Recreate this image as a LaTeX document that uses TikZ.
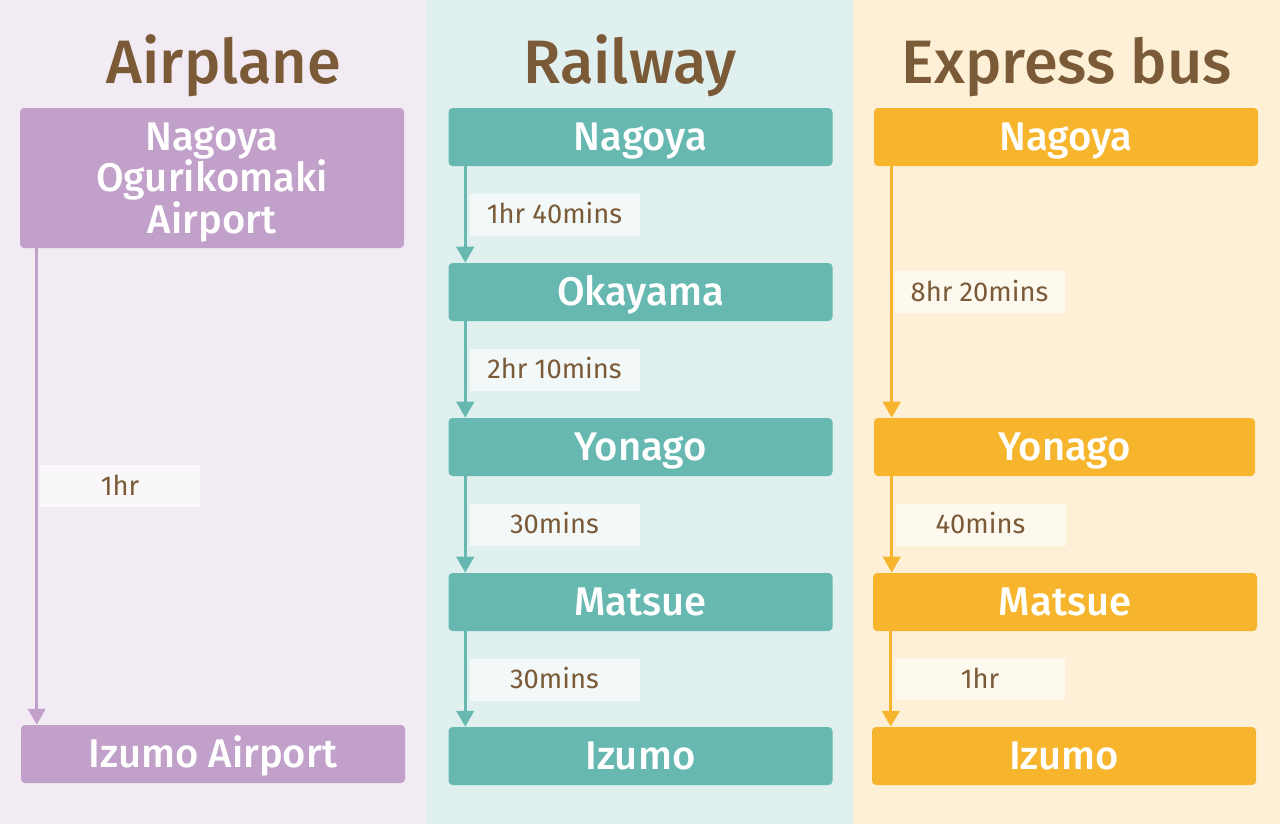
\documentclass[tikz,border=0pt]{standalone}
\usepackage{fontspec}
\setmainfont{Fira Sans}[BoldFont={* Medium}]
\usetikzlibrary{arrows.meta,positioning,calc}
\definecolor{lila}{HTML}{C1A1CA}
\definecolor{lilafondo}{HTML}{F2EBF3}
\definecolor{menta}{HTML}{66B8B1}
\definecolor{mentafondo}{HTML}{E0F0EF}
\definecolor{ambar}{HTML}{F7B52D}
\definecolor{ambarfondo}{HTML}{FDF0D7}
\definecolor{cafe}{HTML}{7A5A37}
\tikzset{
  titulo/.style={text=cafe, inner sep=0pt, text height=31.7pt, text depth=0pt, font=\fontsize{46}{55}\selectfont\bfseries},
  parada/.style={rounded corners=3pt, minimum width=288pt, minimum height=43.5pt, text=white, align=center, inner sep=0pt, text height=20.7pt, text depth=0pt, font=\fontsize{30}{31}\selectfont\bfseries},
  tiempo/.style={minimum width=127.5pt, minimum height=31.5pt, inner sep=0pt, text height=14.1pt, text depth=0pt, text=cafe, font=\fontsize{20.5}{24}\selectfont},
  flecha/.style={-{Triangle[length=12pt,width=13pt]}, line width=2.5pt},
}

\begin{document}
\begin{tikzpicture}[x=0.75pt, y=-0.75pt]
  % fondos de columna
  \fill[white] (0,0) rectangle (1280,826);
  \fill[lilafondo] (0,0) rectangle (426,824);
  \fill[mentafondo] (426,0) rectangle (853,824);
  \fill[ambarfondo] (853,0) rectangle (1280,824);

  % titulos
  \node[titulo] (tAvion) at (224,62) {Airplane};
  \node[titulo] (tTren) at (630,62) {Railway};
  \node[titulo] (tBus) at (1067,62) {Express bus};

  % avion
  \node[parada, fill=lila, minimum height=105pt, text height=] (a1) at (212,178) {Nagoya\\Ogurikomaki\\Airport};
  \node[parada, fill=lila] (a2) at (213,754) {Izumo Airport};
  \path ($(a1.south west)+(17,0)$) coordinate (pa);
  \draw[flecha, lila] (pa) -- (pa |- a2.north);
  \node[tiempo, fill=white!60!lilafondo, minimum width=120pt] (ta1) at (120,486) {1hr};

  % tren
  \node[parada, fill=menta] (r1) at (640.5,137) {Nagoya};
  \node[parada, fill=menta] (r2) at (640.5,292) {Okayama};
  \node[parada, fill=menta] (r3) at (640.5,447) {Yonago};
  \node[parada, fill=menta] (r4) at (640.5,602) {Matsue};
  \node[parada, fill=menta] (r5) at (640.5,756) {Izumo};
  \foreach \i/\j in {r1/r2, r2/r3, r3/r4, r4/r5}{
    \path ($(\i.south west)+(17,0)$) coordinate (p);
    \draw[flecha, menta] (p) -- (p |- \j.north);
  }
  \node[tiempo, fill=white!60!mentafondo] (tr1) at (554.5,214.5) {1hr 40mins};
  \node[tiempo, fill=white!60!mentafondo] (tr2) at (554.5,369.5) {2hr 10mins};
  \node[tiempo, fill=white!60!mentafondo] (tr3) at (554.5,524.5) {30mins};
  \node[tiempo, fill=white!60!mentafondo] (tr4) at (554.5,679.5) {30mins};

  % bus
  \node[parada, fill=ambar] (b1) at (1066,137) {Nagoya};
  \node[parada, fill=ambar, minimum width=285.75pt] (b2) at (1064.5,447) {Yonago};
  \node[parada, fill=ambar] (b3) at (1065,602) {Matsue};
  \node[parada, fill=ambar] (b4) at (1064,756) {Izumo};
  \foreach \i/\j in {b1/b2, b2/b3, b3/b4}{
    \path ($(\i.south west)+(18,0)$) coordinate (p);
    \draw[flecha, ambar] (p) -- (p |- \j.north);
  }
  \node[tiempo, fill=white!60!ambarfondo] (tb1) at (979.5,292) {8hr 20mins};
  \node[tiempo, fill=white!60!ambarfondo] (tb2) at (980.5,524.5) {40mins};
  \node[tiempo, fill=white!60!ambarfondo] (tb3) at (980,679) {1hr};
\end{tikzpicture}
\end{document}
